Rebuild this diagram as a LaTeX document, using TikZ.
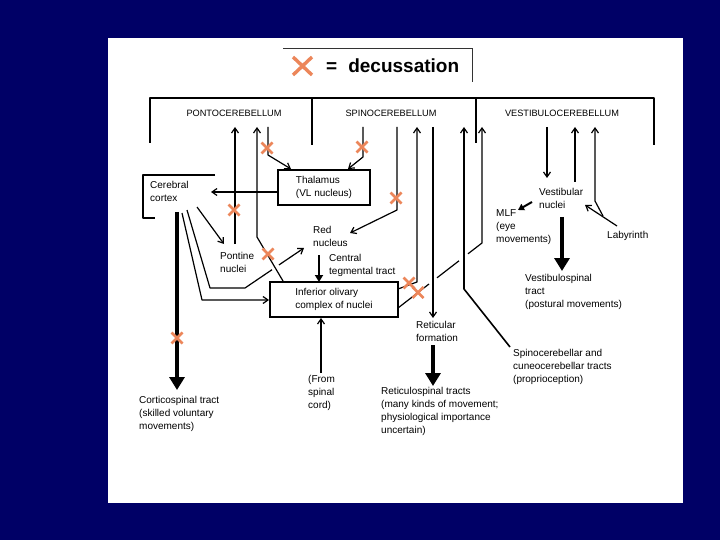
\documentclass[tikz,border=0pt]{standalone}
\usepackage{fontspec}
\setmainfont{Liberation Sans}
\usetikzlibrary{arrows.meta}
\definecolor{navy}{RGB}{0,0,102}
\definecolor{xorange}{RGB}{236,134,90}
\tikzset{
  lbl/.style={anchor=north west, inner sep=0pt, align=left, font=\fontsize{10}{13}\selectfont},
  caplbl/.style={inner sep=0pt, font=\fontsize{9.2}{11}\selectfont},
  ln/.style={line width=1.2pt, line join=round},
  arr/.style={ln, -{Straight Barb[length=5pt,width=7pt,line width=1.2pt]}},
  big/.style={line width=4pt, -{Triangle[length=13pt,width=15pt]}},
  mid/.style={line width=2.2pt, -{Triangle[length=7pt,width=8pt]}},
  xm/.style={xorange, line width=2.6pt},
  xmark/.pic={\draw[xm] (-5.5,-5.5)--(5.5,5.5) (-5.5,5.5)--(5.5,-5.5);},
  boxnode/.style={draw, line width=1.2pt, inner sep=0pt, align=left, font=\fontsize{10}{13}\selectfont}
}
\begin{document}
\begin{tikzpicture}[x=1pt,y=-1pt]
\fill[navy] (0,0) rectangle (720,540);
\fill[white] (108,38) rectangle (683,503);
\useasboundingbox (0,0) rectangle (720,540);

% legend
\draw[line width=0.9pt, black!80] (283,48) -- (472,48) -- (472,82);
\draw[xm, line width=3.4pt] (293,57) -- (312,75) (293,75) -- (312,57);
\node[anchor=west, inner sep=0pt, font=\fontsize{19}{22}\selectfont\bfseries] (leg) at (326,66) {=\hspace{11pt}decussation};

% cerebellum bracket
\draw[ln, line width=1.4pt] (150,143) -- (150,98) -- (654,98) -- (654,145);
\draw[ln, line width=1.4pt] (312,98) -- (312,145);
\draw[ln, line width=1.4pt] (476,98) -- (476,143);
\node[caplbl] (ponto) at (234,113) {PONTOCEREBELLUM};
\node[caplbl] (spino) at (391,113) {SPINOCEREBELLUM};
\node[caplbl] (vestibulo) at (562,113) {VESTIBULOCEREBELLUM};

% boxes and labels
\draw[ln] (215,175) -- (143,175) -- (143,218) -- (155,218);
\node[lbl] (cortex) at (150,181) {Cerebral\\cortex};
\node[boxnode, minimum width=92pt, minimum height=35pt] (thal) at (324,187.5) {Thalamus\\(VL nucleus)};
\node[boxnode, minimum width=128pt, minimum height=35pt] (olive) at (334,299.5) {Inferior olivary\\complex of nuclei};
\node[lbl] (pontine) at (220,252) {Pontine\\nuclei};
\node[lbl] (red) at (313,226) {Red\\nucleus};
\node[lbl] (ctt) at (329,254) {Central\\tegmental tract};
\node[lbl] (spinal) at (308,375) {(From\\spinal\\cord)};
\node[lbl] (corti) at (139,396) {Corticospinal tract\\(skilled voluntary\\movements)};
\node[lbl] (retic) at (416,321) {Reticular\\formation};
\node[lbl] (retsp) at (381,387) {Reticulospinal tracts\\(many kinds of movement;\\physiological importance\\uncertain)};
\node[lbl] (spcb) at (513,349) {Spinocerebellar and\\cuneocerebellar tracts\\(proprioception)};
\node[lbl] (vestn) at (539,188) {Vestibular\\nuclei};
\node[lbl] (mlf) at (496,209) {MLF\\(eye\\movements)};
\node[lbl] (vestsp) at (525,274) {Vestibulospinal\\tract\\(postural movements)};
\node[lbl] (laby) at (607,231) {Labyrinth};

% pontocerebellum connections
\draw[arr] (235,244) -- (235,127);
\draw[arr] (283,281) -- (257,237) -- (257,127);
\draw[arr] (268,127) -- (268,155) -- (291,169);
\draw[arr] (363,127) -- (363,157) -- (348,169);
\draw[arr] (278,192) -- (211,192);
\draw[arr] (197,207) -- (224,244);
\draw[ln] (187,210) -- (210,288) -- (245,288) -- (272,269.7);
\draw[arr] (279,264.9) -- (304,248);
\draw[arr] (182,213) -- (202,300) -- (269,300);
\draw[big] (177,212) -- (177,390);

% spinocerebellum connections
\draw[arr] (397,127) -- (397,210) -- (350,233);
\draw[mid] (319,255) -- (319,282);
\draw[arr] (398,289) -- (417,282) -- (417,127);
\draw[arr] (433,127) -- (433,318);
\draw[big] (433,345) -- (433,386);
\draw[arr] (321,373) -- (321,318);
\draw[arr, line width=1.6pt] (510,347) -- (464,289) -- (464,127);
\draw[ln] (398,308) -- (429,284);
\draw[ln] (437,277.8) -- (459,260.8);
\draw[arr] (468,253.8) -- (482,243) -- (482,127);

% vestibulocerebellum connections
\draw[arr] (547,127) -- (547,178);
\draw[arr] (575,182) -- (575,127);
\draw[arr] (617,226) -- (585,205);
\draw[arr] (603,216) -- (595,201) -- (595,127);
\draw[mid, line width=2pt, -{Triangle[length=6pt,width=7pt]}] (532,202) -- (518,210);
\draw[big] (562,217) -- (562,271);

% decussations
\pic at (267,148) {xmark};
\pic at (362,147) {xmark};
\pic at (234,210) {xmark};
\pic at (268,254) {xmark};
\pic at (396,198) {xmark};
\pic at (409,283) {xmark};
\pic at (418,292.5) {xmark};
\pic at (177,338) {xmark};
\end{tikzpicture}
\end{document}
